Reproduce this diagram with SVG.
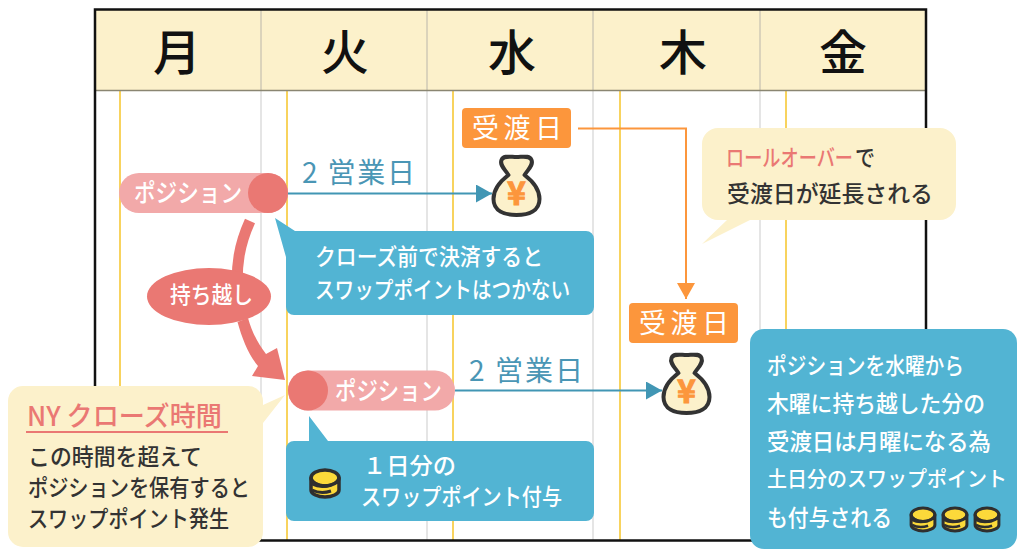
<svg xmlns="http://www.w3.org/2000/svg" width="1024" height="555" viewBox="0 0 1024 555">
<style>
text{font-family:"Noto Sans CJK JP","Noto Sans",sans-serif;font-weight:500}
.hd{font-size:48px;fill:#111;text-anchor:middle}
.g{stroke:#d4d4d4;stroke-width:1.2}
.y{stroke:#f8d35e;stroke-width:2}
.w{fill:#fff}
.d{fill:#333}
.pk{fill:#f2a9a9}
.r{fill:#ea7873}
.bl{fill:#52b4d3}
.cr{fill:#fcf1cb}
.or{fill:#fc963c}
.t21{font-size:23px}
.tb{font-size:28px;fill:#4a96b5;font-weight:400}
.lbl{font-size:27px;fill:#fff;letter-spacing:4.5px;font-weight:400}
.yen{font-size:32px;font-weight:700;fill:#fc963c;stroke:#fc963c;stroke-width:1;text-anchor:middle}
</style>
<defs>
<marker id="ab" markerUnits="userSpaceOnUse" markerWidth="16" markerHeight="18" refX="16" refY="9" orient="auto"><path d="M0 0L16 9L0 18Z" fill="#4196b4"/></marker>
<marker id="ao" markerUnits="userSpaceOnUse" markerWidth="18" markerHeight="18" refX="16" refY="9" orient="auto"><path d="M0 0L16 9L0 18Z" fill="#fc963c"/></marker>
<g id="bag"><path d="M-8 -20C-12 -26 -17 -30 -15 -35C-13 -40 -6 -38 0 -38C6 -38 13 -40 15 -35C17 -30 12 -26 8 -20C16 -14 23 -6 23 4C23 16 12 20 0 20C-12 20 -23 16 -23 4C-23 -6 -16 -14 -8 -20Z" fill="#fcf1cb" stroke="#333" stroke-width="4" stroke-linejoin="round"/></g>
<g id="coin"><ellipse cx="0" cy="-5" rx="14" ry="8" fill="#fcd93a" stroke="#2f2f2f" stroke-width="3.500"/><path d="M-14 -5V7C-14 11 -7 14 0 14C7 14 14 11 14 7V-5C14 -1 7 3 0 3C-7 3 -14 -1 -14 -5Z" fill="#fcd93a" stroke="#2f2f2f" stroke-width="3.500" stroke-linejoin="round"/><path d="M-13 1C-7 4 0 4 6 2M-13 7C-7 10 0 10 6 8" fill="none" stroke="#2f2f2f" stroke-width="3"/></g>
</defs>
<rect id="background" width="1024" height="555" fill="#fff"/>
<g id="calendar">
<rect x="95" y="9.5" width="831" height="81" fill="#fcf1cb"/>
<g class="grid">
<path class="g" d="M261 10V541M427 10V541M593 10V541M760 10V541"/>
<path d="M261 10V90M427 10V90M593 10V90M760 10V90" stroke="#d6ccae" stroke-width="1.2"/>
<path class="y" d="M120 91V541M287 91V541M453 91V541M620 91V541M786 91V541"/>
</g>
<path d="M95 90.5H926" stroke="#8a8672" stroke-width="1.5"/>
<rect x="95" y="9.5" width="831" height="531" fill="none" stroke="#111" stroke-width="2.5"/>
<text class="hd" x="177" y="70">月</text>
<text class="hd" x="345" y="70">火</text>
<text class="hd" x="512" y="70">水</text>
<text class="hd" x="683" y="70">木</text>
<text class="hd" x="843" y="70">金</text>
</g>
<g id="connectors">
<path d="M288 193.5H492" fill="none" stroke="#4196b4" stroke-width="2" marker-end="url(#ab)"/>
<path d="M455 390.5H662" fill="none" stroke="#4196b4" stroke-width="2" marker-end="url(#ab)"/>
<path d="M578 128.5H686V299" fill="none" stroke="#fc963c" stroke-width="2" marker-end="url(#ao)"/>
<path d="M250 221C240 243 235 265 238 300" fill="none" stroke="#ea7873" stroke-width="11"/>
<path d="M237.500 322L248 318C252 332 258 344 266 354L277 348L285 380L252 376L258 366C248 354 242 338 237.500 322Z" fill="#ea7873"/>
</g>
<g id="pos1">
<rect class="pk" x="119" y="173" width="169" height="40" rx="20"/>
<circle class="r" cx="268" cy="193" r="20"/>
<text class="w" x="134" y="202" font-size="25" textLength="108" lengthAdjust="spacingAndGlyphs">ポジション</text>
</g>
<g id="pos2">
<rect class="pk" x="288" y="370.500" width="167" height="40" rx="20"/>
<circle class="r" cx="308" cy="390.500" r="20"/>
<text class="w" x="335" y="400" font-size="25" textLength="107" lengthAdjust="spacingAndGlyphs">ポジション</text>
</g>
<g id="carry">
<ellipse class="r" cx="209" cy="296.500" rx="62" ry="28.500"/>
<text class="w t21" x="170" y="303" textLength="83" lengthAdjust="spacingAndGlyphs">持ち越し</text>
</g>
<g id="bizdays1"><text class="tb" x="302" y="183" textLength="113">2 営業日</text></g>
<g id="bizdays2"><text class="tb" x="469" y="381" textLength="114">2 営業日</text></g>
<g id="delivery1">
<rect class="or" x="462" y="108" width="109" height="40" rx="4"/>
<text class="lbl" x="472" y="138">受渡日</text>
</g>
<g id="delivery2">
<rect class="or" x="629" y="303" width="109" height="40" rx="4"/>
<text class="lbl" x="639" y="333">受渡日</text>
</g>
<g id="bag1"><use href="#bag" x="516.500" y="195"/><text class="yen" x="516.500" y="205">¥</text></g>
<g id="bag2"><use href="#bag" x="686.500" y="393"/><text class="yen" x="686.500" y="403">¥</text></g>
<g id="note-close">
<path class="bl" d="M275 218L295 231H586a8 8 0 0 1 8 8V307a8 8 0 0 1-8 8H294a8 8 0 0 1-8-8V257Z"/>
<text class="w t21" x="315" y="265" textLength="228" lengthAdjust="spacingAndGlyphs">クローズ前で決済すると</text>
<text class="w t21" x="315" y="298" textLength="255" lengthAdjust="spacingAndGlyphs">スワップポイントはつかない</text>
</g>
<g id="note-swap">
<path class="bl" d="M309 416L328 441H586a8 8 0 0 1 8 8V513a8 8 0 0 1-8 8H294a8 8 0 0 1-8-8V449a8 8 0 0 1 8-8H309Z"/>
<use href="#coin" x="325" y="483"/>
<text class="w t21" x="363" y="474" textLength="93" lengthAdjust="spacingAndGlyphs">１日分の</text>
<text class="w t21" x="361" y="505" textLength="201" lengthAdjust="spacingAndGlyphs">スワップポイント付与</text>
</g>
<g id="note-ny">
<path class="cr" d="M23 386H248a15 15 0 0 1 15 15V405L285 395L263 423V532a15 15 0 0 1-15 15H23a15 15 0 0 1-15-15V401a15 15 0 0 1 15-15Z"/>
<text x="27" y="426" font-size="27" fill="#ea7873" textLength="195" lengthAdjust="spacingAndGlyphs">NY クローズ時間</text>
<path d="M26 432H228" stroke="#ea7873" stroke-width="2"/>
<text class="d t21" x="28" y="465" textLength="174" lengthAdjust="spacingAndGlyphs">この時間を超えて</text>
<text class="d t21" x="28" y="496" textLength="222" lengthAdjust="spacingAndGlyphs">ポジションを保有すると</text>
<text class="d t21" x="28" y="527" textLength="201" lengthAdjust="spacingAndGlyphs">スワップポイント発生</text>
</g>
<g id="note-rollover">
<path class="cr" d="M718 128H940a16 16 0 0 1 16 16V204a16 16 0 0 1-16 16H750L702 244L727 220H718a16 16 0 0 1-16-16V144a16 16 0 0 1 16-16Z"/>
<text class="t21" transform="translate(726 166) scale(.79 1)" fill="#ea7873">ロールオーバー</text>
<text class="d t21" x="855" y="166" textLength="20" lengthAdjust="spacingAndGlyphs">で</text>
<text class="d t21" x="727" y="202" textLength="206" lengthAdjust="spacingAndGlyphs">受渡日が延長される</text>
</g>
<g id="note-weekend">
<rect class="bl" x="750" y="329" width="267" height="220" rx="14"/>
<text class="w t21" x="767" y="374" textLength="197" lengthAdjust="spacingAndGlyphs">ポジションを水曜から</text>
<text class="w t21" x="767" y="412" textLength="218" lengthAdjust="spacingAndGlyphs">木曜に持ち越した分の</text>
<text class="w t21" x="767" y="450" textLength="224" lengthAdjust="spacingAndGlyphs">受渡日は月曜になる為</text>
<text class="w" font-size="21" x="767" y="486" textLength="240" lengthAdjust="spacingAndGlyphs">土日分のスワップポイント</text>
<text class="w t21" x="767" y="526" textLength="125" lengthAdjust="spacingAndGlyphs">も付与される</text>
<use href="#coin" transform="translate(923 519) scale(.85)"/>
<use href="#coin" transform="translate(955 519) scale(.85)"/>
<use href="#coin" transform="translate(987 519) scale(.85)"/>
</g>
</svg>
